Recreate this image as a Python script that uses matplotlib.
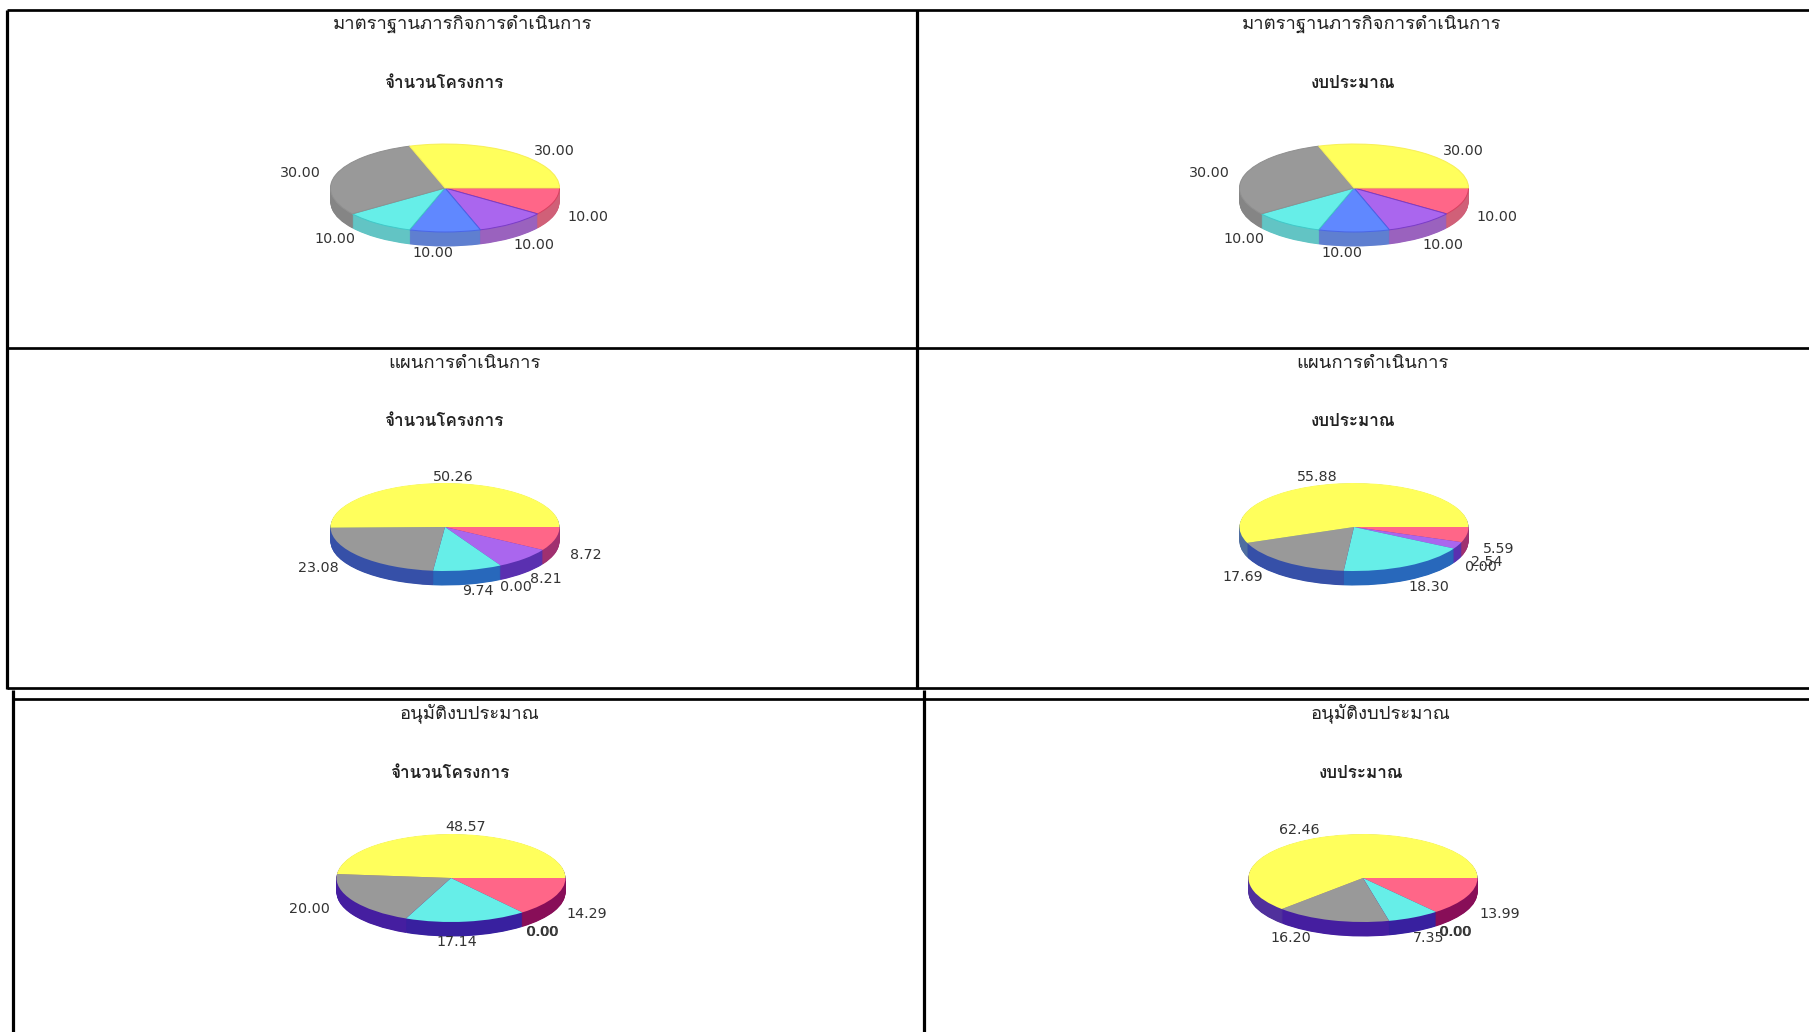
"""
plot.py - six 3D style pie charts in a bordered 2x3 grid, Thai titles.
"""

import sys

import matplotlib
matplotlib.use("Agg")
import matplotlib.pyplot as plt
from matplotlib import font_manager
from matplotlib.lines import Line2D
from matplotlib.ft2font import FT2Font

W, H = 1809, 1032

# slice order: clockwise from 3 o'clock
TOP_COLORS = ["#FF6688", "#AA66EE", "#6088FF", "#66EEE8", "#999999", "#FFFF5C"]

TITLES = ["มาตราฐานภารกิจการดำเนินการ", "มาตราฐานภารกิจการดำเนินการ",
          "แผนการดำเนินการ", "แผนการดำเนินการ",
          "อนุมัติงบประมาณ", "อนุมัติงบประมาณ"]
SUBTITLES = ["จำนวนโครงการ", "งบประมาณ"] * 3

VALUES_1 = [10.00, 10.00, 10.00, 10.00, 30.00, 30.00]
VALUES_2 = [10.00, 10.00, 10.00, 10.00, 30.00, 30.00]
VALUES_3 = [8.72, 8.21, 0.00, 9.74, 23.08, 50.26]
VALUES_4 = [5.59, 2.54, 0.00, 18.30, 17.69, 55.88]
VALUES_5 = [14.29, 0.00, 0.00, 17.14, 20.00, 48.57]
VALUES_6 = [13.99, 0.00, 0.00, 7.35, 16.20, 62.46]
ALL_VALUES = [VALUES_1, VALUES_2, VALUES_3, VALUES_4, VALUES_5, VALUES_6]

SIDE_ROW_1 = ["#D06078", "#9A62BE", "#5F7FD0", "#62C4C4", "#858585", "#858585"]
SIDE_ROW_2 = ["#A03070", "#5A30B0", "#3A50B0", "#2868BB", "#3650A8", "#4F6EA0"]
SIDE_ROW_3 = ["#880E58", "#38209F", "#38209F", "#38209F", "#451EA0", "#50309C"]
ALL_SIDES = [SIDE_ROW_1, SIDE_ROW_1, SIDE_ROW_2, SIDE_ROW_2, SIDE_ROW_3, SIDE_ROW_3]

# only the top row shows coloured slice outlines
EDGE_ROW_1 = ["#D84060", "#7A3CC8", "#4A66E8", "#40C8C8", "#909090", "#F8F058"]
ALL_EDGES = [EDGE_ROW_1, EDGE_ROW_1, None, None, None, None]

# layout, all in picture pixels
CENTERS = [(445, 188), (1354, 188), (445, 527), (1354, 527), (451, 878), (1363, 878)]
TITLE_POS = [(463, 24), (1372, 24), (464, 363), (1372, 363), (470, 713), (1381, 713)]
SUB_POS = [(444, 83), (1353, 83), (444, 422), (1353, 422), (450, 773), (1361, 773)]
RX, RY, DEPTH = 114.5, 44, 14.5

LABEL_POS = [
    [(588, 217), (534, 245), (433, 253), (335, 239), (300, 173), (554, 151)],
    [(1497, 217), (1443, 245), (1342, 253), (1244, 239), (1209, 173), (1463, 151)],
    [(586, 555), (546, 579), (516, 587), (478, 591), (318, 568), (453, 477)],
    [(1499, 549), (1487, 562), (1481, 567), (1429, 587), (1243, 577), (1317, 477)],
    [(587, 914), (542, 932), (542.6, 932), (457, 942), (309, 909), (466, 827)],
    [(1500, 914), (1455, 932), (1455.6, 932), (1429, 938), (1291, 938), (1299, 830)],
]

# frame lines: x0, y0, x1, y1, width in px
FRAME = [
    (7, 10, W, 10, 2.7), (7, 348, W, 348, 2.7), (7, 688, W, 688, 2.7),
    (7, 10, 7, 689, 3.2), (917, 10, 917, 689, 3.2),
    (13, 699, W, 699, 2.7), (13, 690, 13, H, 3.2), (924, 690, 924, H, 3.2),
]


def find_thai_font():
    """Returns the first installed family that really has Thai glyphs."""
    for entry in font_manager.fontManager.ttflist:
        try:
            if 0x0E01 in FT2Font(entry.fname).get_charmap():
                return entry.name
        except Exception:
            continue
    print("WARNING: no Thai font found", file=sys.stderr)
    return "DejaVu Sans"


def draw_pie(fig, values, side_colors, edges, center):
    cx, cy = center
    rect = [(cx - RX) / W, 1 - (cy + RY + DEPTH) / H, 2 * RX / W, (2 * RY + DEPTH) / H]
    ax = fig.add_axes(rect)
    depth_units = DEPTH / RY
    # wall is a stack of pies, top one goes last
    layers = int(DEPTH * 2)
    for i in range(layers, 0, -1):
        ax.pie(values, colors=side_colors, startangle=0, counterclock=False,
               center=(0, -depth_units * i / layers), wedgeprops={"linewidth": 0})
    wedges, _ = ax.pie(values, colors=TOP_COLORS, startangle=0, counterclock=False,
                       wedgeprops={"linewidth": 0})
    if edges is not None:
        for wedge, value, edge in zip(wedges, values, edges):
            if value > 0:
                wedge.set_edgecolor(edge)
                wedge.set_linewidth(0.7)
    # wedges become ellipses once the aspect is released
    ax.set_aspect("auto")
    ax.set_xlim(-1, 1)
    ax.set_ylim(-1 - depth_units, 1)
    ax.axis("off")


def main():
    thai_font = find_thai_font()
    fig = plt.figure(figsize=(W / 100, H / 100), dpi=100, facecolor="white")

    overlay = fig.add_axes([0, 0, 1, 1], zorder=5)
    overlay.set_xlim(0, W)
    overlay.set_ylim(H, 0)
    overlay.axis("off")

    for x0, y0, x1, y1, lw in FRAME:
        overlay.add_line(Line2D([x0, x1], [y0, y1], color="black", linewidth=lw * 0.72,
                                solid_capstyle="butt"))

    for i, values in enumerate(ALL_VALUES):
        draw_pie(fig, values, ALL_SIDES[i], ALL_EDGES[i], CENTERS[i])
        overlay.text(*TITLE_POS[i], TITLES[i], ha="center", va="center", fontsize=13.3,
                     color="#222222", family=[thai_font, "DejaVu Sans"])
        overlay.text(*SUB_POS[i], SUBTITLES[i], ha="center", va="center", fontsize=12.3,
                     color="#222222", fontweight="bold", family=[thai_font, "DejaVu Sans"])
        for value, pos in zip(values, LABEL_POS[i]):
            overlay.text(*pos, f"{value:.2f}", ha="center", va="center", fontsize=10.3,
                         color="#333333", family="DejaVu Sans")

    fig.savefig("out.png", dpi=100)


if __name__ == "__main__":
    main()
